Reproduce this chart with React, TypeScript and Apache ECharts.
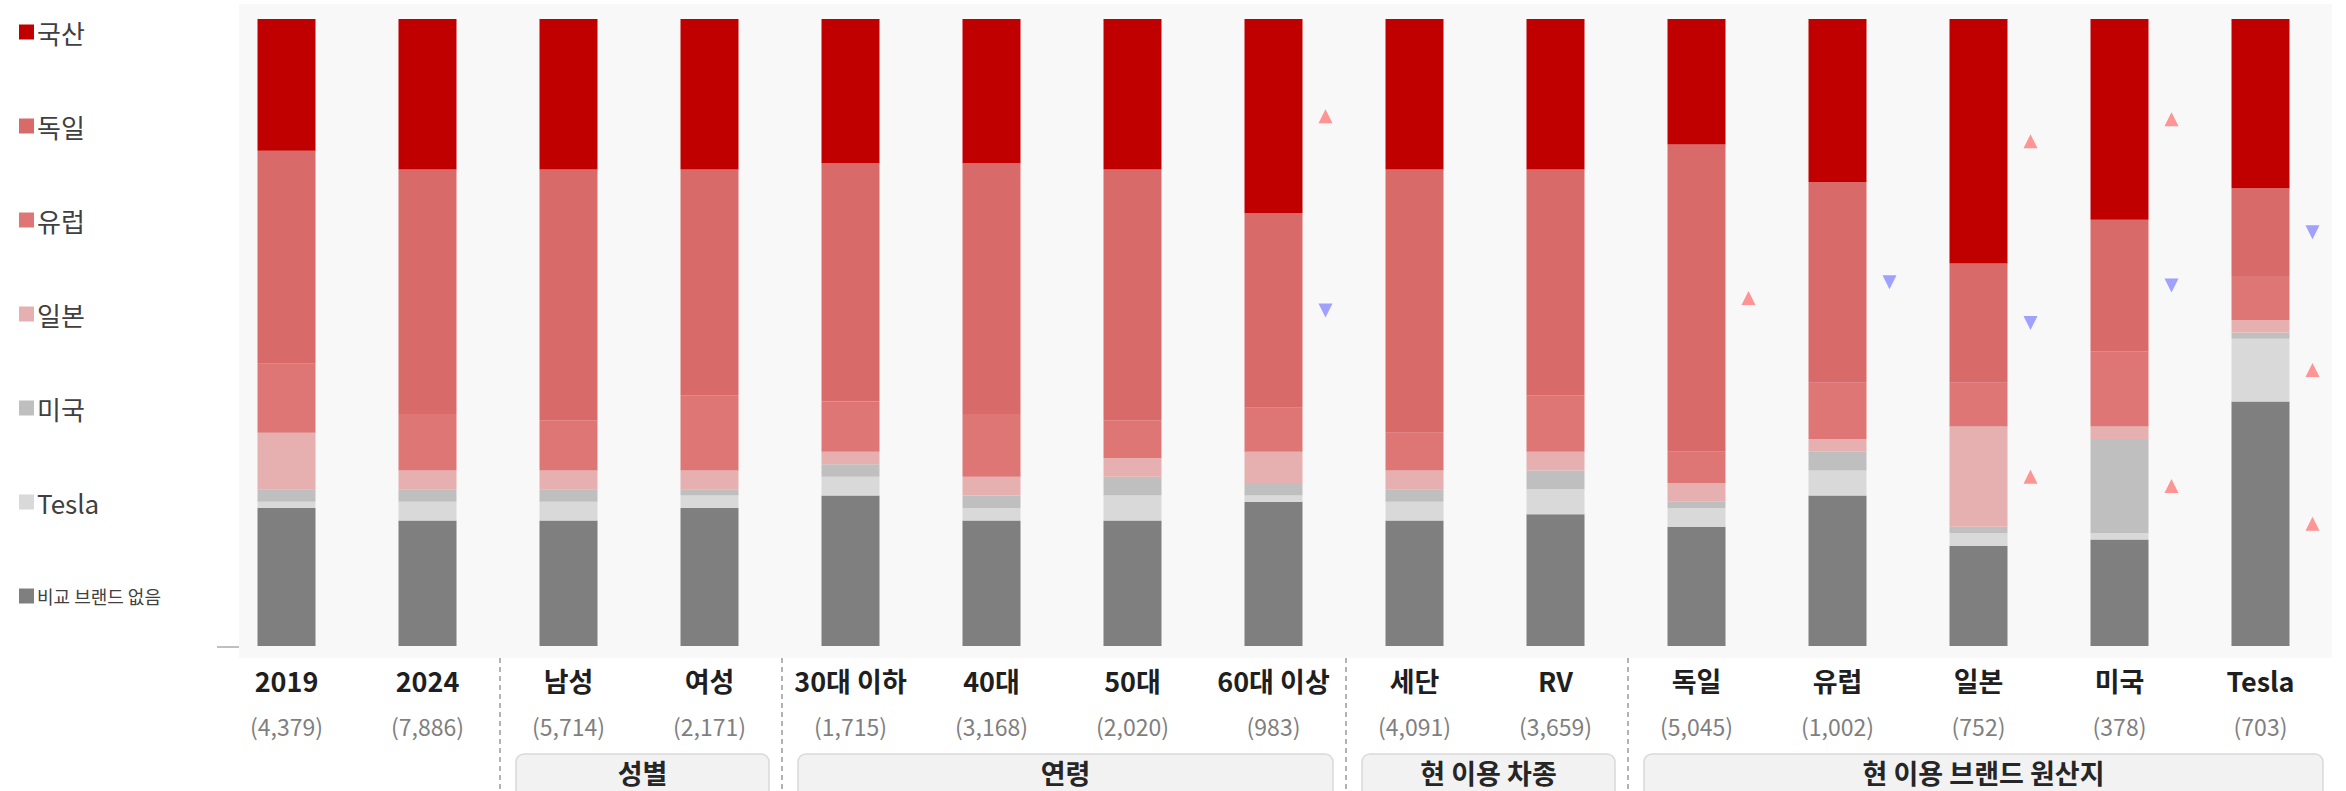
import React, { useEffect, useRef } from "react";
import * as echarts from "echarts";

const FONT = "'Noto Sans CJK KR', 'Noto Sans', sans-serif";

const categories = ["2019", "2024", "남성", "여성", "30대 이하", "40대", "50대", "60대 이상", "세단", "RV", "독일", "유럽", "일본", "미국", "Tesla"];
const counts = ["4,379", "7,886", "5,714", "2,171", "1,715", "3,168", "2,020", "983", "4,091", "3,659", "5,045", "1,002", "752", "378", "703"];

// stacked bottom -> top
const noBrand = [22, 20, 20, 22, 24, 20, 20, 23, 20, 21, 19, 24, 16, 17, 39];
const tesla = [1, 3, 3, 2, 3, 2, 4, 1, 3, 4, 3, 4, 2, 1, 10];
const usa = [2, 2, 2, 1, 2, 2, 3, 2, 2, 3, 1, 3, 1, 15, 1];
const japan = [9, 3, 3, 3, 2, 3, 3, 5, 3, 3, 3, 2, 16, 2, 2];
const europe = [11, 9, 8, 12, 8, 10, 6, 7, 6, 9, 5, 9, 7, 12, 7];
const germany = [34, 39, 40, 36, 38, 40, 40, 31, 42, 36, 49, 32, 19, 21, 14];
const domestic = [21, 24, 24, 24, 23, 23, 24, 31, 24, 24, 20, 26, 39, 32, 27];

const seriesNames = ["비교 브랜드 없음", "Tesla", "미국", "일본", "유럽", "독일", "국산"];
const seriesValues = [noBrand, tesla, usa, japan, europe, germany, domestic];
const seriesColors = ["#7F7F7F", "#D9D9D9", "#BFBFBF", "#E6B0B0", "#DE7676", "#D96A6A", "#C00000"];
const legendOrder = ["국산", "독일", "유럽", "일본", "미국", "Tesla", "비교 브랜드 없음"];

// significance marks: [category index, series name, direction]
const sigMarks: [number, string, "up" | "down"][] = [
  [7, "국산", "up"], [7, "독일", "down"],
  [10, "독일", "up"],
  [11, "독일", "down"],
  [12, "국산", "up"], [12, "독일", "down"], [12, "일본", "up"],
  [13, "국산", "up"], [13, "독일", "down"], [13, "미국", "up"],
  [14, "독일", "down"], [14, "Tesla", "up"], [14, "비교 브랜드 없음", "up"],
];

const groups = [
  { name: "성별", from: 2, to: 4 },
  { name: "연령", from: 4, to: 8 },
  { name: "현 이용 차종", from: 8, to: 10 },
  { name: "현 이용 브랜드 원산지", from: 10, to: 15 },
];

function midOf(cat: number, name: string) {
  const si = seriesNames.indexOf(name);
  let below = 0;
  for (let k = 0; k < si; k++) below += seriesValues[k][cat];
  return below + seriesValues[si][cat] / 2;
}

export default function App() {
  const ref = useRef<HTMLDivElement>(null);
  useEffect(() => {
    if (!ref.current) return;
    const chart = echarts.init(ref.current, null, { renderer: "svg" });
    const W = 2346;
    const GL = 216;
    const band = 141;
    const GR = W - (GL + band * categories.length);
    const sepX = (k: number) => GL + k * band;

    const upData = sigMarks.filter((m) => m[2] === "up").map((m) => [m[0], midOf(m[0], m[1])]);
    const downData = sigMarks.filter((m) => m[2] === "down").map((m) => [m[0], midOf(m[0], m[1])]);

    const graphics: any[] = [
      { type: "rect", z: -10, silent: true, shape: { x: 239, y: 4, width: 2332 - 239, height: 658 - 4 }, style: { fill: "#F8F8F8" } },
      { type: "line", silent: true, shape: { x1: 217, y1: 647, x2: 239, y2: 647 }, style: { stroke: "#BFBFBF", lineWidth: 2 } },
    ];
    [2, 4, 8, 10].forEach((k) => {
      graphics.push({
        type: "line", silent: true,
        shape: { x1: sepX(k) + 2, y1: 658, x2: sepX(k) + 2, y2: 791 },
        style: { stroke: "#9A9A9A", lineWidth: 1.5, lineDash: [5, 4] },
      });
    });
    groups.forEach((g, gi) => {
      const x0 = sepX(g.from) + 18;
      const x1 = (gi === groups.length - 1 ? sepX(g.to) - 8 : sepX(g.to) - 11);
      graphics.push({
        type: "rect", silent: true,
        shape: { x: x0, y: 754, width: x1 - x0, height: 70, r: 8 },
        style: { fill: "#F2F2F2", stroke: "#D9D9D9", lineWidth: 1.5 },
      });
      graphics.push({
        type: "text", silent: true, x: (x0 + x1) / 2, y: 772,
        style: { text: g.name, fill: "#262626", font: `bold 27px ${FONT}`, textAlign: "center", textVerticalAlign: "middle" },
      });
    });

    chart.setOption({
      animation: false,
      backgroundColor: "#FFFFFF",
      textStyle: { fontFamily: FONT },
      grid: { left: GL, right: GR, top: 19, bottom: 145, containLabel: false },
      legend: {
        orient: "vertical",
        left: 14,
        top: 12,
        itemGap: 64,
        itemWidth: 15,
        itemHeight: 15,
        icon: "rect",
        selectedMode: false,
        textStyle: { color: "#404040", fontSize: 26, lineHeight: 30, fontFamily: FONT, padding: [0, 0, 0, -2] },
        data: legendOrder.map((n) =>
          n === "비교 브랜드 없음"
            ? { name: n, textStyle: { fontSize: 18, lineHeight: 30 } }
            : { name: n }
        ),
      },
      xAxis: {
        type: "category",
        data: categories,
        axisLine: { show: false },
        axisTick: { show: false },
        axisLabel: {
          margin: 11,
          interval: 0,
          formatter: (v: string, i: number) => `{a|${v}}\n{b|(${counts[i]})}`,
          rich: {
            a: { fontSize: 27, fontWeight: "bold", color: "#1F1F1F", lineHeight: 46, fontFamily: FONT },
            b: { fontSize: 23, color: "#7F7F7F", lineHeight: 46, fontFamily: FONT },
          },
        },
      },
      yAxis: { type: "value", min: 0, max: 100, show: false, splitLine: { show: false } },
      series: [
        ...seriesNames.map((name, i) => ({
          name,
          type: "bar",
          stack: "total",
          barWidth: 58,
          data: seriesValues[i],
          itemStyle: { color: seriesColors[i] },
          emphasis: { disabled: true },
          silent: true,
        })),
        {
          name: "up",
          type: "scatter",
          data: upData,
          symbol: "triangle",
          symbolSize: 14,
          symbolOffset: [52, 0],
          itemStyle: { color: "#FF7A7A" },
          silent: true,
          z: 5,
        },
        {
          name: "down",
          type: "scatter",
          data: downData,
          symbol: "triangle",
          symbolRotate: 180,
          symbolSize: 14,
          symbolOffset: [52, 0],
          itemStyle: { color: "#8A8AFF" },
          silent: true,
          z: 5,
        },
      ],
      graphic: graphics,
    });
    return () => chart.dispose();
  }, []);
  return <div ref={ref} style={{ position: "fixed", left: 0, top: 0, width: 2346, height: 791 }} />;
}
